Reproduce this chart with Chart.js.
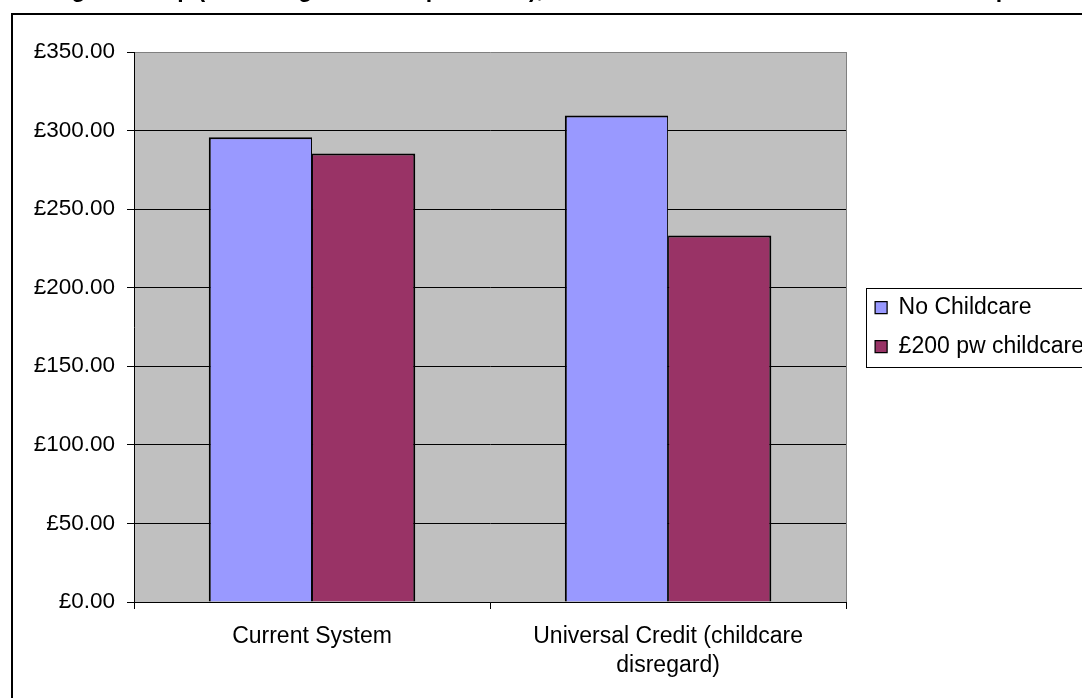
<!DOCTYPE html>
<html>
<head>
<meta charset="utf-8">
<script src="https://cdn.jsdelivr.net/npm/chart.js@4/dist/chart.umd.min.js"></script>
<style>
  html, body { margin: 0; padding: 0; background: #fff; overflow: hidden; }
  #frame { position: relative; width: 1082px; height: 698px; overflow: hidden; }
  #c { position: absolute; left: 0; top: -30px; }
</style>
</head>
<body>
<div id="frame"><canvas id="c"></canvas></div>
<script>
// ---- data ----
const categories = ['Current System', ['Universal Credit (childcare', 'disregard)']];
const seriesNames = ['No Childcare', '£200 pw childcare'];
const noChildcare = [295.7, 309.6];
const withChildcare = [285.4, 233.3];
const yMin = 0;
const yMax = 350;
const yStep = 50;
const titleText = 'Earning with help (excluding childcare provision), under current rules and Universal Credit per week';

// ---- layout ----
const FONT_FAMILY = '"Liberation Sans", Arial, sans-serif';
const TICK_SIZE = 22.5;
const LABEL_SIZE = 23;
const CANVAS_H = 740;
const PLOT_LEFT = 134;     // right edge of the value axis
const PLOT_RIGHT = 846;    // right edge of the plot area
const LEGEND_LEFT = 859;   // left edge of the legend block
const LEGEND_PAD = 16;
const LEGEND_BOX = 12;

const canvas = document.getElementById('c');
canvas.width = 1200;
canvas.height = CANVAS_H;

Chart.defaults.font.family = FONT_FAMILY;
Chart.defaults.color = '#000';

// spacer between the plot and the legend
const spacer = { width: LEGEND_LEFT - PLOT_RIGHT };

const plotFrame = {
  id: 'plotFrame',
  beforeDraw(chart) {
    const { ctx, chartArea: a } = chart;
    ctx.save();
    ctx.fillStyle = '#C0C0C0';
    ctx.fillRect(a.left, a.top, a.right - a.left, a.bottom - a.top);
    ctx.restore();
  },
  afterDraw(chart) {
    const { ctx, chartArea: a } = chart;
    ctx.save();
    // grey right edge of the plot area
    ctx.strokeStyle = '#808080';
    ctx.lineWidth = 1;
    ctx.beginPath();
    ctx.moveTo(Math.round(a.right) + 0.5, a.top);
    ctx.lineTo(Math.round(a.right) + 0.5, a.bottom);
    ctx.stroke();

    // box round the legend
    const lg = chart.legend;
    const hb = lg.legendHitBoxes;
    if (hb && hb.length) {
      const top = Math.round(hb[0].top - 8.5) + 0.5;
      const last = hb[hb.length - 1];
      const bottom = Math.round(last.top + last.height + 8.5) + 0.5;
      const left = Math.round(hb[0].left - 9) + 0.5;
      ctx.strokeStyle = '#000';
      ctx.lineWidth = 1;
      ctx.strokeRect(left, top, chart.width, bottom - top);
    }

    // outer chart frame
    ctx.strokeStyle = '#000';
    ctx.lineWidth = 2;
    ctx.strokeRect(12, 44, chart.width, chart.height);
    ctx.restore();
  }
};

const chart = new Chart(canvas, {
  type: 'bar',
  data: {
    labels: categories,
    datasets: [
      {
        label: seriesNames[0],
        data: noChildcare,
        backgroundColor: '#9999FF',
        borderColor: '#000',
        borderWidth: { left: 2, top: 2, right: 1, bottom: 0 },
        borderSkipped: false
      },
      {
        label: seriesNames[1],
        data: withChildcare,
        backgroundColor: '#993366',
        borderColor: '#000',
        borderWidth: { left: 1, top: 2, right: 2, bottom: 0 },
        borderSkipped: false
      }
    ]
  },
  options: {
    responsive: false,
    maintainAspectRatio: false,
    animation: false,
    devicePixelRatio: 1,
    layout: { padding: { left: 0, right: 0, top: 0, bottom: 28 } },
    datasets: {
      bar: { categoryPercentage: 0.58, barPercentage: 1.0 }
    },
    plugins: {
      tooltip: { enabled: false },
      title: {
        display: true,
        text: titleText,
        align: 'start',
        color: '#000',
        font: { size: 23, weight: 'bold', family: FONT_FAMILY },
        padding: { top: 6.5, bottom: 47.9 }
      },
      legend: {
        display: true,
        position: 'right',
        align: 'center',
        fullSize: false,
        maxWidth: 600,
        labels: {
          boxWidth: LEGEND_BOX,
          boxHeight: LEGEND_BOX,
          padding: LEGEND_PAD,
          color: '#000',
          font: { size: LABEL_SIZE, family: FONT_FAMILY }
        }
      }
    },
    scales: {
      x: {
        offset: true,
        grid: {
          display: true,
          drawOnChartArea: false,
          drawTicks: true,
          tickLength: 7,
          offset: true,
          color: '#000'
        },
        border: { display: true, color: '#000', width: 1 },
        ticks: {
          color: '#000',
          padding: 13,
          maxRotation: 0,
          autoSkip: false,
          font: { size: LABEL_SIZE, family: FONT_FAMILY, lineHeight: 1.26 }
        },
        afterFit(scale) { scale.height = 80; }
      },
      y: {
        min: yMin,
        max: yMax,
        grid: {
          display: true,
          drawTicks: true,
          tickLength: 7,
          color: (c) => (c.tick && c.tick.value === yMax ? '#808080' : '#000'),
          tickColor: '#000'
        },
        border: { display: true, color: '#000', width: 1 },
        ticks: {
          stepSize: yStep,
          padding: 12,
          color: '#000',
          font: { size: TICK_SIZE, family: FONT_FAMILY },
          callback: (v) => '£' + Number(v).toFixed(2)
        },
        afterFit(scale) { scale.width = PLOT_LEFT; }
      },
      gap: {
        position: 'right',
        display: true,
        grid: { display: false },
        border: { display: false },
        ticks: { display: false },
        afterFit(scale) { scale.width = spacer.width; }
      }
    }
  },
  plugins: [plotFrame]
});

// size the canvas so the legend sits right after the spacer,
// then fine-tune the spacer so the plot ends at PLOT_RIGHT
chart.resize(Math.ceil(LEGEND_LEFT + chart.legend.width), CANVAS_H);
for (let i = 0; i < 4; i++) {
  const diff = chart.chartArea.right - PLOT_RIGHT;
  if (Math.abs(diff) < 0.5) break;
  spacer.width = Math.max(0, spacer.width + diff);
  chart.update();
}
</script>
</body>
</html>
